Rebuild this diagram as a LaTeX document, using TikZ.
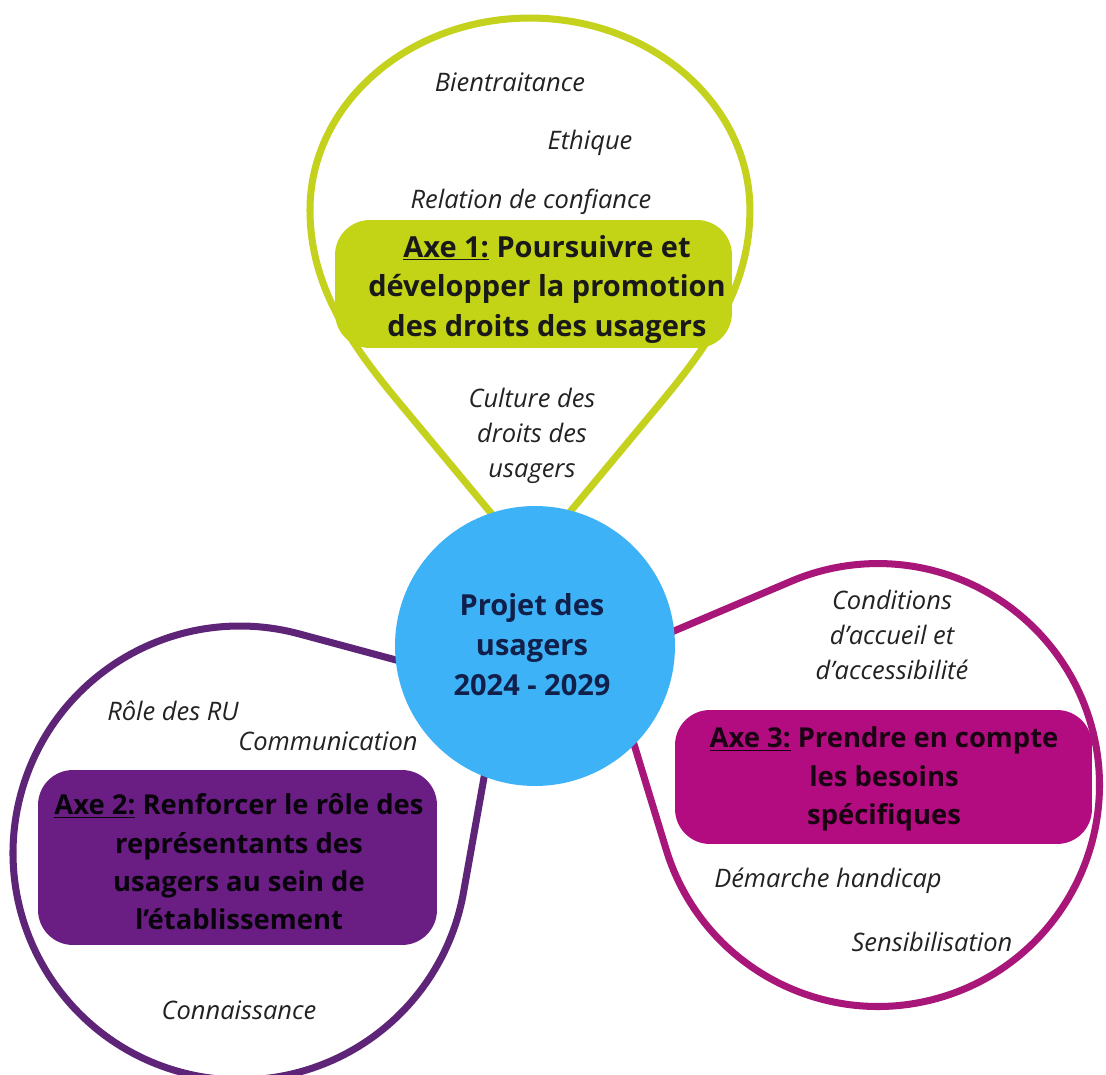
\documentclass[tikz,border=0pt]{standalone}
\usepackage{fontspec}
\setmainfont{Open Sans}
\usetikzlibrary{calc}
\definecolor{axeA}{HTML}{C4D21E}
\definecolor{axeAfill}{HTML}{C3D316}
\definecolor{axeB}{HTML}{5E2478}
\definecolor{axeBfill}{HTML}{6A1E84}
\definecolor{axeC}{HTML}{A8167A}
\definecolor{axeCfill}{HTML}{B20C80}
\definecolor{centreblue}{HTML}{3EB2F6}
\definecolor{navytxt}{HTML}{10204A}
\definecolor{labelgray}{HTML}{222222}
\begin{document}
\begin{tikzpicture}[x=0.02cm,y=-0.02cm,
  lbl/.style={font=\fontsize{14.5}{19.8}\selectfont\itshape, text=labelgray, align=center, inner sep=0pt},
  boxtxt/.style={font=\fontsize{16.5}{22.5}\selectfont\bfseries, align=center, inner sep=0pt},
  boxtxtsmall/.style={font=\fontsize{15.6}{21.8}\selectfont\bfseries, align=center, inner sep=0pt},
  axebox/.style={rounded corners=0.7cm, inner sep=0pt},
  balloon/.style={line width=4pt, line join=round}]

\fill[white] (0,0) rectangle (1106,1075);
\useasboundingbox (0,0) rectangle (1106,1075);

% balloon geometry
\coordinate (ya) at (530,560);
\coordinate (yl) at (397,400);
\coordinate (yr) at (663,400);
\coordinate (pc) at (240,853);
\coordinate (pa) at (500,688);
\coordinate (mc) at (878,785);
\coordinate (ma) at (608,659);

\draw[balloon, draw=axeA] (ya) -- (yl) .. controls (349,342) and (310,285) .. (310,210)
  arc[start angle=180, end angle=0, x radius=4.4cm, y radius=3.84cm]
  .. controls (750,285) and (711,342) .. (yr) -- cycle;
\draw[balloon, draw=axeB] (pc) ++(74.9:4.54cm)
  arc[start angle=74.9, end angle=349.9, radius=4.54cm] -- (pa) -- cycle;
\draw[balloon, draw=axeC] (mc) ++(196.96:4.43cm)
  arc[start angle=196.96, end angle=473.0, radius=4.43cm] -- (ma) -- cycle;

% Axe 1
\node[lbl] (bien) at (510,82) {Bientraitance};
\node[lbl] (eth) at (590,143) {Ethique};
\node[lbl] (rel) at (531,202) {Relation de confiance};
\node[axebox, fill=axeAfill, minimum width=7.94cm, minimum height=2.56cm] (box1) at (533.5,284) {};
\node[boxtxt, text=black!90] (t1) at (547,289) {\underline{Axe 1:} Poursuivre et\\développer la promotion\\des droits des usagers};
\node[lbl] (cult) at (532,436) {Culture des\\droits des\\usagers};

% Axe 2
\node[lbl] (role) at (173,711) {Rôle des RU};
\node[lbl] (comm) at (328,741) {Communication};
\node[axebox, fill=axeBfill, minimum width=7.98cm, minimum height=3.5cm] (box2) at (237.5,857.5) {};
\node[boxtxtsmall, text=black!90!axeB] (t2) at (239,862) {\underline{Axe 2:} Renforcer le rôle des\\représentants des\\usagers au sein de\\l’établissement};
\node[lbl] (conn) at (239,1010) {Connaissance};

% Axe 3
\node[lbl] (cond) at (892,635) {Conditions\\d’accueil et\\d’accessibilité};
\node[axebox, fill=axeCfill, minimum width=8.34cm, minimum height=2.68cm] (box3) at (883.5,777) {};
\node[boxtxtsmall, text=black!85!axeC] (t3) at (884,779) {\underline{Axe 3:} Prendre en compte\\les besoins\\spécifiques};
\node[lbl] (dem) at (828,881) {Démarche handicap};
\node[lbl] (sens) at (932,942) {Sensibilisation};

% centre
\node[circle, fill=centreblue, minimum size=5.6cm, inner sep=0pt] (centre) at (535,646) {};
\node[font=\fontsize{16.5}{22.7}\selectfont\bfseries, text=navytxt, align=center, inner sep=0pt] (ct) at (532,645) {Projet des\\usagers\\2024 - 2029};
\end{tikzpicture}
\end{document}
